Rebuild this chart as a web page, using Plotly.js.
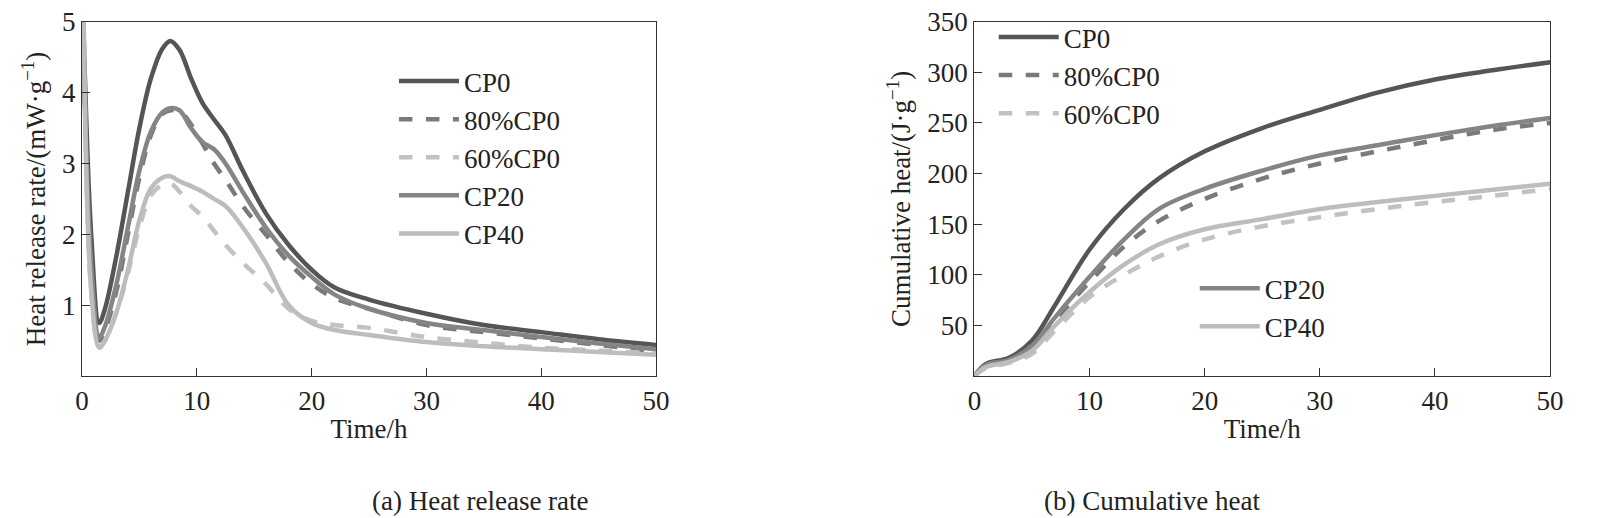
<!DOCTYPE html>
<html><head><meta charset="utf-8">
<script src="https://cdn.plot.ly/plotly-3.0.1.min.js"></script>
<style>body{margin:0;background:#fff}#c{width:1608px;height:518px}</style>
</head><body><div id="c"></div>
<script>
// Heat release rate (a)
const tA = [0.15,0.8,1.5,2,3,4,5,6,7,7.7,8.5,9.5,10.5,11.5,12.5,14,16,18,20,22,25,30,35,40,45,50];
const rCP0   = [4.8,2.0,0.75,0.95,1.7,2.6,3.5,4.2,4.62,4.73,4.6,4.2,3.85,3.62,3.4,2.9,2.3,1.85,1.5,1.25,1.08,0.88,0.72,0.62,0.52,0.44];
const rCP20  = [4.5,1.6,0.55,0.7,1.3,2.1,2.9,3.45,3.72,3.78,3.75,3.5,3.3,3.2,3.0,2.6,2.1,1.7,1.4,1.15,0.95,0.75,0.65,0.55,0.46,0.38];
const r80    = [4.4,1.5,0.5,0.65,1.2,2.0,2.8,3.4,3.7,3.75,3.74,3.55,3.28,3.0,2.77,2.4,2.0,1.6,1.3,1.1,0.95,0.72,0.62,0.53,0.44,0.35];
const rCP40  = [5.0,1.2,0.4,0.5,0.9,1.5,2.2,2.65,2.8,2.82,2.75,2.68,2.6,2.5,2.4,2.1,1.6,1.0,0.75,0.65,0.58,0.48,0.42,0.38,0.34,0.3];
const r60    = [5.0,1.2,0.42,0.5,0.9,1.45,2.1,2.55,2.7,2.72,2.6,2.4,2.25,2.05,1.85,1.6,1.3,0.95,0.78,0.72,0.68,0.55,0.47,0.4,0.36,0.32];
// Cumulative heat (b)
const tB = [0,1,3,5,7,10,13,16,20,25,30,35,40,45,50];
const qCP0  = [0,12,18,35,70,125,165,195,222,245,263,280,293,302,310];
const qCP20 = [0,11,16,30,58,98,135,165,185,203,218,228,238,247,255];
const q80   = [0,10,15,28,55,93,128,153,175,195,210,222,233,243,250];
const qCP40 = [0,9,14,25,50,83,110,130,145,155,165,172,178,184,190];
const q60   = [0,8,13,22,45,78,100,118,135,148,157,165,172,178,185];

const st = {
 'CP0':{color:'#555555',dash:'solid'},
 '80%CP0':{color:'#7a7a7a',dash:'dash'},
 '60%CP0':{color:'#c2c2c2',dash:'dash'},
 'CP20':{color:'#858585',dash:'solid'},
 'CP40':{color:'#bdbdbd',dash:'solid'}
};
function tr(x,y,n,xa,ya,leg){
  return {x:x,y:y,name:n,type:'scatter',mode:'lines',line:{shape:'spline',width:4.5,color:st[n].color,dash:st[n].dash},
    xaxis:xa,yaxis:ya,legend:leg,showlegend:true};
}
const data = [
 tr(tA,rCP0,'CP0','x','y','legend'),
 tr(tA,r80,'80%CP0','x','y','legend'),
 tr(tA,r60,'60%CP0','x','y','legend'),
 tr(tA,rCP20,'CP20','x','y','legend'),
 tr(tA,rCP40,'CP40','x','y','legend'),
 tr(tB,qCP0,'CP0','x2','y2','legend2'),
 tr(tB,q80,'80%CP0','x2','y2','legend2'),
 tr(tB,q60,'60%CP0','x2','y2','legend2'),
 tr(tB,qCP20,'CP20','x2','y2','legend3'),
 tr(tB,qCP40,'CP40','x2','y2','legend3')
];
const F = {family:'Liberation Serif',size:27,color:'#222'};
const ax = {showline:true,mirror:true,linecolor:'#333',linewidth:1.2,ticks:'inside',ticklen:8,tickcolor:'#333',showgrid:false,zeroline:false,tickfont:F};
const legBase = {font:{family:'Liberation Serif',size:27,color:'#222'},bgcolor:'rgba(0,0,0,0)',itemwidth:60,tracegroupgap:0,xanchor:'left',yanchor:'top'};
const layout = {
 width:1608,height:518,margin:{l:0,r:0,t:0,b:0},paper_bgcolor:'#fff',plot_bgcolor:'#fff',font:F,
 xaxis:Object.assign({},ax,{domain:[0.051,0.408],range:[0,50],tickvals:[0,10,20,30,40,50],title:{text:'Time/h',font:F,standoff:4}}),
 yaxis:Object.assign({},ax,{domain:[0.274,0.958],range:[0,5],tickvals:[1,2,3,4,5],title:{text:'Heat release rate/(mW·g<sup>−1</sup>)',font:F,standoff:8}}),
 xaxis2:Object.assign({},ax,{domain:[0.606,0.964],range:[0,50],tickvals:[0,10,20,30,40,50],anchor:'y2',title:{text:'Time/h',font:F,standoff:4}}),
 yaxis2:Object.assign({},ax,{domain:[0.274,0.958],range:[0,350],tickvals:[50,100,150,200,250,300,350],anchor:'x2',title:{text:'Cumulative heat/(J·g<sup>−1</sup>)',font:F,standoff:8}}),
 legend:Object.assign({},legBase,{x:0.245,y:0.89}),
 legend2:Object.assign({},legBase,{x:0.618,y:0.975}),
 legend3:Object.assign({},legBase,{x:0.743,y:0.49}),
 annotations:[
  {text:'(a) Heat release rate',xref:'paper',yref:'paper',x:0.23,y:0.0,yanchor:'bottom',showarrow:false,font:F},
  {text:'(b) Cumulative heat',xref:'paper',yref:'paper',x:0.785,y:0.0,yanchor:'bottom',showarrow:false,font:F}
 ]
};
Plotly.newPlot('c',data,layout,{staticPlot:true});
</script></body></html>
